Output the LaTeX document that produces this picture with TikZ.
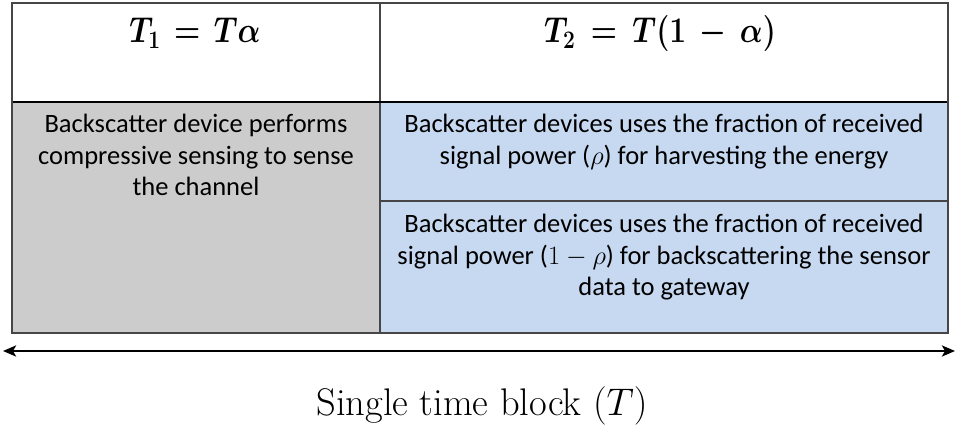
\RequirePackage{fix-cm}
\documentclass[tikz,border=0pt]{standalone}
\usepackage{fontspec}
\usepackage{amsmath}
\usepackage{graphicx}
\usetikzlibrary{arrows.meta}
\newfontfamily\calibri{Carlito}
\definecolor{cellgray}{RGB}{204,204,204}
\definecolor{cellblue}{RGB}{198,217,241}
\definecolor{rulegray}{RGB}{70,70,70}
\begin{document}
\begin{tikzpicture}[x=1pt,y=-1pt,
  cell/.style={draw=none, anchor=north west, inner sep=0pt, outer sep=0pt},
  bodytxt/.style={font=\calibri\fontsize{26.5}{31.5}\selectfont, align=center, inner sep=0pt},
  headtxt/.style={font=\fontsize{30}{34}\selectfont\boldmath, inner sep=0pt, anchor=base},
  gridline/.style={draw=rulegray, line width=1.5pt},
  outerline/.style={draw=rulegray, line width=2pt},
  headrule/.style={draw=black, line width=2.5pt}
]
\useasboundingbox (0,0) rectangle (956,427);
% cells
\node[cell, fill=white, minimum width=936pt, minimum height=99pt] (head) at (12,3) {};
\node[cell, fill=cellgray, minimum width=368pt, minimum height=231pt] (c1) at (12,102) {};
\node[cell, fill=cellblue, minimum width=568pt, minimum height=99pt] (c2) at (380,102) {};
\node[cell, fill=cellblue, minimum width=568pt, minimum height=132pt] (c3) at (380,201) {};
% lines
\draw[gridline] (c3.north west) -- (c3.north east);
\draw[gridline] (380,3) -- (c1.south east);
\draw[headrule] (c1.north west) -- (c2.north east);
\draw[outerline] (head.north west) rectangle (c3.south east);
% header texts
\node[headtxt] (h1) at (195,43) {\scalebox{1}[1.2]{\boldmath$T_1\mskip2mu=\mskip2mu T\alpha$}};
\node[headtxt] (h2) at (660,43) {\scalebox{1}[1.2]{\boldmath$T_2 \mathrel{\mskip3mu=\mskip3mu} T(1 \mathbin{\mskip3mu-\mskip3mu} \alpha)$}};
% body texts
\node[bodytxt, anchor=north] (t1) at (196,114) {Backscatter device performs\\compressive sensing to sense\\the channel};
\node[bodytxt, anchor=north] (t2) at (664,114) {Backscatter devices uses the fraction of received\\signal power ($\rho$) for harvesting the energy};
\node[bodytxt, anchor=north] (t3) at (664,214) {Backscatter devices uses the fraction of received\\signal power ($1-\rho$) for backscattering the sensor\\data to gateway};
% arrow
\coordinate (al) at (3,351);
\coordinate (ar) at (955,351);
\draw[line width=2.5pt, {Stealth[length=13pt,width=11pt,inset=3pt]}-{Stealth[length=13pt,width=11pt,inset=3pt]}] (al) -- (ar);
% label
\node[font=\fontsize{38.5}{42}\selectfont, inner sep=0pt, anchor=base] (lbl) at (482,416) {Single time block $(T)$};
\end{tikzpicture}
\end{document}
